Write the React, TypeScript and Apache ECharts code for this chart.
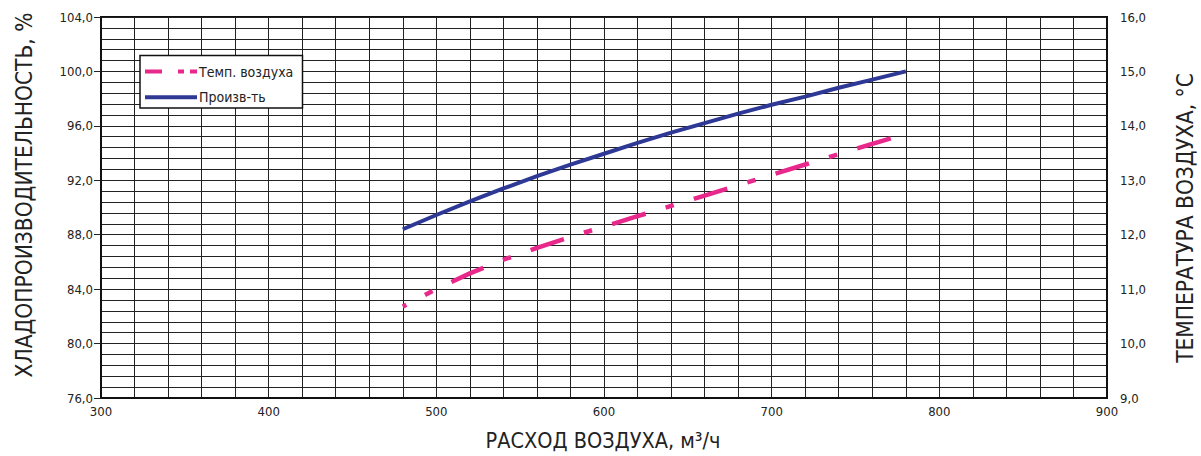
import React, { useEffect, useRef } from "react";
import * as echarts from "echarts";

const airflow = [480, 500, 520, 540, 560, 580, 600, 620, 640, 660, 680, 700, 720, 740, 760, 780];
const capacity = [88.4, 89.45, 90.45, 91.4, 92.3, 93.15, 93.95, 94.75, 95.5, 96.2, 96.9, 97.55, 98.15, 98.8, 99.4, 100.0];
const temperature = [10.68, 11.0, 11.29, 11.54, 11.76, 11.96, 12.15, 12.34, 12.53, 12.72, 12.91, 13.1, 13.29, 13.48, 13.67, 13.85];

const seriesNames = ["Темп. воздуха", "Произв-ть"];
const xTitle = "РАСХОД ВОЗДУХА, м³/ч";
const yLeftTitle = "ХЛАДОПРОИЗВОДИТЕЛЬНОСТЬ, %";
const yRightTitle = "ТЕМПЕРАТУРА ВОЗДУХА, °С";

const FONT = '"DejaVu Sans Condensed", "Liberation Sans Narrow", "DejaVu Sans", sans-serif';
const PINK = "#E8288A";
const BLUE = "#2E3895";
const GRIDC = "#222";

const fmt = (v: number) => v.toFixed(1).replace(".", ",");

export default function App() {
  const ref = useRef<HTMLDivElement>(null);
  useEffect(() => {
    const chart = echarts.init(ref.current!, null, { renderer: "svg" });
    const option: any = {
      animation: false,
      backgroundColor: "#fff",
      textStyle: { fontFamily: FONT },
      grid: { left: 101, right: 94, top: 17, bottom: 58, show: true, borderColor: "#111", borderWidth: 2 },
      xAxis: {
        type: "value",
        min: 300,
        max: 900,
        interval: 100,
        axisLine: { show: true, lineStyle: { color: "#111", width: 2 } },
        axisTick: { show: false },
        axisLabel: { fontFamily: FONT, fontSize: 13, color: "#222", margin: 7 },
        splitLine: { show: true, lineStyle: { color: GRIDC, width: 1 } },
        minorTick: { show: false, splitNumber: 5 },
        minorSplitLine: { show: true, lineStyle: { color: GRIDC, width: 1 } },
      },
      yAxis: [
        {
          type: "value",
          min: 76,
          max: 104,
          interval: 4,
          position: "left",
          axisLine: { show: true, lineStyle: { color: "#111", width: 2 } },
          axisTick: { show: true, length: 7, lineStyle: { color: "#222" } },
          axisLabel: { fontFamily: FONT, fontSize: 13, color: "#222", margin: 8, formatter: fmt },
          splitLine: { show: true, lineStyle: { color: GRIDC, width: 1 } },
          minorTick: { show: false, splitNumber: 5 },
          minorSplitLine: { show: true, lineStyle: { color: GRIDC, width: 1 } },
        },
        {
          type: "value",
          min: 9,
          max: 16,
          interval: 1,
          position: "right",
          axisLine: { show: true, lineStyle: { color: "#111", width: 2 } },
          axisTick: { show: false },
          axisLabel: { fontFamily: FONT, fontSize: 13, color: "#222", margin: 13, formatter: fmt },
          splitLine: { show: false },
        },
      ],
      graphic: [
        {
          type: "text",
          x: 24,
          y: 195,
          rotation: Math.PI / 2,
          style: { text: yLeftTitle, fontFamily: FONT, fontSize: 22.5, fill: "#222", align: "center", verticalAlign: "middle" },
        },
        {
          type: "text",
          x: 1185,
          y: 218,
          rotation: Math.PI / 2,
          style: { text: yRightTitle, fontFamily: FONT, fontSize: 22.5, fill: "#222", align: "center", verticalAlign: "middle" },
        },
        {
          type: "text",
          x: 603,
          y: 440,
          style: { text: xTitle, fontFamily: FONT, fontSize: 21.5, fill: "#222", align: "center", verticalAlign: "middle" },
        },
        {
          type: "rect",
          z: 100,
          shape: { x: 140, y: 55.5, width: 162.5, height: 52.5 },
          style: { fill: "#fff", stroke: "#111", lineWidth: 1.5 },
        },
        {
          type: "line",
          z: 101,
          shape: { x1: 145, y1: 71.5, x2: 197, y2: 71.5 },
          style: { stroke: PINK, lineWidth: 4, lineDash: [17, 16, 6, 6] },
        },
        {
          type: "text",
          z: 101,
          x: 199,
          y: 71.5,
          style: { text: seriesNames[0], fontFamily: FONT, fontSize: 14, fill: "#222", verticalAlign: "middle" },
        },
        {
          type: "line",
          z: 101,
          shape: { x1: 145, y1: 97.3, x2: 197, y2: 97.3 },
          style: { stroke: BLUE, lineWidth: 4 },
        },
        {
          type: "text",
          z: 101,
          x: 199,
          y: 97.3,
          style: { text: seriesNames[1], fontFamily: FONT, fontSize: 14, fill: "#222", verticalAlign: "middle" },
        },
      ],
      series: [
        {
          name: seriesNames[0],
          type: "line",
          yAxisIndex: 1,
          symbol: "none",
          data: airflow.map((x, i) => [x, temperature[i]]),
          lineStyle: { color: PINK, width: 4.5, type: [35, 21, 8.5, 21], dashOffset: 31 },
          itemStyle: { color: PINK },
          z: 3,
        },
        {
          name: seriesNames[1],
          type: "line",
          yAxisIndex: 0,
          symbol: "none",
          data: airflow.map((x, i) => [x, capacity[i]]),
          lineStyle: { color: BLUE, width: 4 },
          itemStyle: { color: BLUE },
          z: 4,
        },
      ],
    };
    chart.setOption(option);
    return () => chart.dispose();
  }, []);
  return (
    <div
      ref={ref}
      style={{ position: "fixed", left: 0, top: 0, width: 1201, height: 456, background: "#fff" }}
    />
  );
}
